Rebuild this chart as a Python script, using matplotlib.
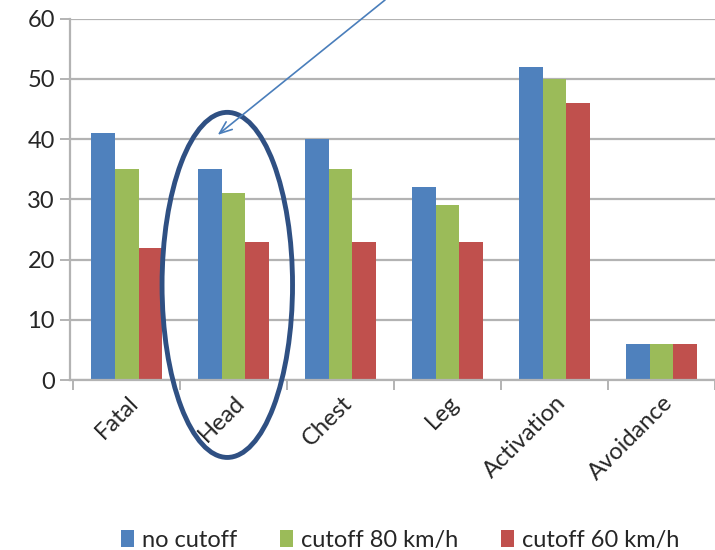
import matplotlib.pyplot as plt
from matplotlib.patches import Ellipse, Patch
from matplotlib.transforms import ScaledTranslation
import numpy as np

categories = ["Fatal", "Head", "Chest", "Leg", "Activation", "Avoidance"]
no_cutoff = [41, 35, 40, 32, 52, 6]
cutoff_80 = [35, 31, 35, 29, 50, 6]
cutoff_60 = [22, 23, 23, 23, 46, 6]
series_names = ["no cutoff", "cutoff 80 km/h", "cutoff 60 km/h"]
y_ticks = [0, 10, 20, 30, 40, 50, 60]

colors = ["#4f81bd", "#9bbb59", "#c0504d"]
grid_c = "#b3b3b3"

plt.rcParams['font.family'] = ['Lato', 'DejaVu Sans']

fig = plt.figure(figsize=(7.15, 5.5), dpi=100)
ax = fig.add_axes([0.098, 0.309, 0.902, 0.657])

x = np.arange(len(categories))
w = 0.22
for k, vals in enumerate([no_cutoff, cutoff_80, cutoff_60]):
    ax.bar(x + (k - 1) * w, vals, w, color=colors[k], zorder=3)

ax.set_xlim(-0.53, 5.39)
ax.set_ylim(0, 60)
ax.set_yticks(y_ticks)
ax.yaxis.grid(True, color=grid_c, linewidth=1.6, zorder=0)
ax.tick_params(axis='y', labelsize=17, length=7, width=1.4, color=grid_c,
               labelcolor='#262626', pad=4)

# category labels at the centres, tick marks on the boundaries
ax.set_xticks(x)
ax.set_xticklabels(categories, rotation=45, ha='right', va='center',
                   rotation_mode='anchor', fontsize=17, color='#262626')
ax.tick_params(axis='x', which='major', length=0, pad=14)
shift = ScaledTranslation(8 / 100, 0, fig.dpi_scale_trans)
for lab in ax.get_xticklabels():
    lab.set_transform(lab.get_transform() + shift)
ax.set_xticks(np.arange(-0.5, 6.0, 1.0), minor=True)
ax.tick_params(axis='x', which='minor', length=7, width=1.4, color=grid_c)

for s in ['top', 'right']:
    ax.spines[s].set_visible(False)
for s in ['left', 'bottom']:
    ax.spines[s].set_color(grid_c)
    ax.spines[s].set_linewidth(1.6)
    ax.spines[s].set_zorder(4)

# ring around the Head group and the pointer towards it
ring = Ellipse((0.94, 15.8), 1.22, 57.3, fill=False, edgecolor='#2f5083',
               linewidth=3.5, clip_on=False, zorder=5)
ax.add_patch(ring)
ax.annotate("", xy=(0.85, 40.7), xycoords='data',
            xytext=(385, 550), textcoords='figure pixels',
            arrowprops=dict(arrowstyle='->,head_length=0.9,head_width=0.35',
                            color='#4a7ebb', linewidth=1.2,
                            shrinkA=0, shrinkB=0),
            annotation_clip=False, zorder=6)

handles = [Patch(facecolor=c, edgecolor='none') for c in colors]
fig.legend(handles, series_names, loc='lower center', ncol=3, frameon=False,
           bbox_to_anchor=(0.56, -0.04), fontsize=17, handlelength=0.55,
           handleheight=0.7, handletextpad=0.35, columnspacing=1.8,
           labelcolor='#262626')

fig.savefig("out.png", dpi=100)
